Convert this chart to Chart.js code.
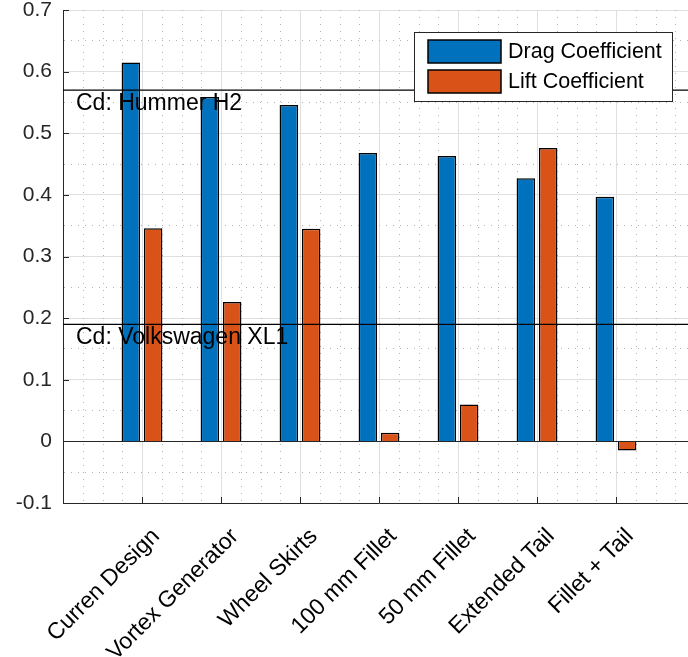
<!DOCTYPE html>
<html>
<head>
<meta charset="utf-8">
<script src="https://cdn.jsdelivr.net/npm/chart.js@4/dist/chart.umd.min.js"></script>
<style>
  body { margin: 0; overflow: hidden; background: #fff; }
  canvas { display: block; }
</style>
</head>
<body>
<canvas id="graficoCoeficientes" width="700" height="657"></canvas>
<script>
var categorias = ['Curren Design', 'Vortex Generator', 'Wheel Skirts', '100 mm Fillet', '50 mm Fillet', 'Extended Tail', 'Fillet + Tail'];
var dadosArrasto = [0.615, 0.559, 0.546, 0.468, 0.463, 0.427, 0.397];
var dadosSustentacao = [0.346, 0.226, 0.345, 0.014, 0.060, 0.476, -0.015];
var linhasReferencia = [0.57, 0.19];
var rotulosReferencia = ['Cd: Hummer H2', 'Cd: Volkswagen XL1'];

var corArrasto = '#0072BD';
var corSustentacao = '#D95319';
var corEixo = '#262626';
var corGrade = '#dfdfdf';
var corGradeMenor = '#b4b4b4';

Chart.defaults.font.family = "'Liberation Sans', Arial, sans-serif";
Chart.defaults.color = corEixo;

function ehInteiro(v, passo) {
    return Math.abs(v / passo - Math.round(v / passo)) < 1e-6;
}

// grade secundaria pontilhada no eixo x (quartos de categoria)
const pluginGradeMenor = {
    id: 'gradeMenor',
    beforeDatasetsDraw(chart) {
        const ctx = chart.ctx;
        const area = chart.chartArea;
        const x = chart.scales.x;
        ctx.save();
        ctx.strokeStyle = corGradeMenor;
        ctx.lineWidth = 1;
        ctx.setLineDash([1, 6]);
        for (let k = 1; k < (x.max) * 4; k++) {
            if (k % 4 === 0) continue;
            const px = Math.round(x.getPixelForValue(k / 4)) + 0.5;
            ctx.beginPath();
            ctx.moveTo(px, area.top);
            ctx.lineTo(px, area.bottom);
            ctx.stroke();
        }
        ctx.restore();
    }
};

// linhas horizontais de referencia, linha do zero e marcas internas dos eixos
const pluginLinhas = {
    id: 'linhas',
    afterDatasetsDraw(chart) {
        const ctx = chart.ctx;
        const area = chart.chartArea;
        const x = chart.scales.x;
        const y = chart.scales.y;
        ctx.save();

        ctx.strokeStyle = corEixo;
        ctx.lineWidth = 1;
        const y0 = Math.round(y.getPixelForValue(0)) + 0.5;
        ctx.beginPath();
        ctx.moveTo(area.left, y0);
        ctx.lineTo(area.right, y0);
        ctx.stroke();

        // marcas dos ticks para dentro
        y.ticks.forEach(function (t) {
            if (!ehInteiro(t.value, 0.1)) return;
            const py = Math.round(y.getPixelForValue(t.value)) + 0.5;
            ctx.beginPath();
            ctx.moveTo(area.left, py);
            ctx.lineTo(area.left + 6, py);
            ctx.stroke();
        });
        x.ticks.forEach(function (t) {
            const px = Math.round(x.getPixelForValue(t.value)) + 0.5;
            ctx.beginPath();
            ctx.moveTo(px, area.bottom);
            ctx.lineTo(px, area.bottom - 6);
            ctx.stroke();
        });

        ctx.strokeStyle = '#000';
        ctx.lineWidth = 1.3;
        ctx.fillStyle = '#000';
        ctx.font = "23px 'Liberation Sans', Arial, sans-serif";
        ctx.textAlign = 'left';
        ctx.textBaseline = 'top';
        linhasReferencia.forEach(function (valor, i) {
            const py = y.getPixelForValue(valor);
            ctx.beginPath();
            ctx.moveTo(area.left, py);
            ctx.lineTo(area.right, py);
            ctx.stroke();
            ctx.fillText(rotulosReferencia[i], area.left + 13, py + 2);
        });
        ctx.restore();
    }
};

// legenda desenhada dentro da area do grafico
const pluginLegenda = {
    id: 'legendaInterna',
    afterDraw(chart) {
        const ctx = chart.ctx;
        const caixa = { x: 414, y: 32, w: 258, h: 69 };
        ctx.save();
        ctx.fillStyle = '#fff';
        ctx.fillRect(caixa.x, caixa.y, caixa.w, caixa.h);
        ctx.strokeStyle = corEixo;
        ctx.lineWidth = 1;
        ctx.strokeRect(caixa.x + 0.5, caixa.y + 0.5, caixa.w, caixa.h);
        ctx.font = "21.5px 'Liberation Sans', Arial, sans-serif";
        ctx.textBaseline = 'middle';
        chart.data.datasets.forEach(function (ds, i) {
            const top = caixa.y + 8 + i * 30;
            ctx.fillStyle = ds.backgroundColor;
            ctx.fillRect(428, top, 73, 23);
            ctx.strokeStyle = '#000';
            ctx.lineWidth = 1.5;
            ctx.strokeRect(428, top, 73, 23);
            ctx.fillStyle = '#000';
            ctx.fillText(ds.label, 508, top + 12);
        });
        ctx.restore();
    }
};

const dataCoeficientes = {
    datasets: [{
        label: 'Drag Coefficient',
        data: dadosArrasto.map(function (v, i) { return { x: i + 1, y: v }; }),
        backgroundColor: corArrasto,
        borderColor: '#000',
        borderWidth: 1.5,
        categoryPercentage: 0.565,
        barPercentage: 0.83
    }, {
        label: 'Lift Coefficient',
        data: dadosSustentacao.map(function (v, i) { return { x: i + 1, y: v }; }),
        backgroundColor: corSustentacao,
        borderColor: '#000',
        borderWidth: 1.5,
        categoryPercentage: 0.565,
        barPercentage: 0.83
    }]
};

const configCoeficientes = {
    type: 'bar',
    data: dataCoeficientes,
    options: {
        responsive: false,
        animation: false,
        layout: { padding: { top: 10, right: 5, left: 0, bottom: 0 } },
        plugins: {
            legend: { display: false },
            tooltip: { enabled: false }
        },
        scales: {
            x: {
                type: 'linear',
                min: 0,
                max: categorias.length + 1,
                offset: false,
                afterFit: function (s) {
                    s.height = 154;
                    s.paddingLeft = 0;
                    s.paddingRight = 0;
                },
                ticks: {
                    stepSize: 1,
                    includeBounds: false,
                    autoSkip: false,
                    minRotation: 45,
                    maxRotation: 45,
                    padding: 20,
                    labelOffset: 14,
                    font: { size: 23 },
                    color: '#000',
                    callback: function (v) {
                        return categorias[Math.round(v) - 1] || '';
                    }
                },
                grid: {
                    offset: false,
                    drawTicks: false,
                    lineWidth: 1,
                    color: corGrade
                },
                border: { color: corEixo, width: 1 }
            },
            y: {
                min: -0.1,
                max: 0.7,
                afterFit: function (s) {
                    s.width = 63;
                    s.paddingTop = 0;
                    s.paddingBottom = 0;
                },
                ticks: {
                    stepSize: 0.05,
                    autoSkip: false,
                    padding: 11,
                    font: { size: 21 },
                    color: corEixo,
                    callback: function (v) {
                        if (!ehInteiro(v, 0.1)) return '';
                        return Math.abs(v) < 1e-9 ? '0' : v.toFixed(1);
                    }
                },
                grid: {
                    drawTicks: false,
                    lineWidth: 1,
                    color: function (c) {
                        return c.tick && ehInteiro(c.tick.value, 0.1) ? corGrade : corGradeMenor;
                    }
                },
                border: {
                    color: corEixo,
                    width: 1,
                    dash: function (c) {
                        return c.tick && !ehInteiro(c.tick.value, 0.1) ? [1, 6] : [];
                    }
                }
            }
        }
    },
    plugins: [pluginGradeMenor, pluginLinhas, pluginLegenda]
};

const graficoCoeficientes = new Chart(
    document.getElementById('graficoCoeficientes'),
    configCoeficientes
);
</script>
</body>
</html>
